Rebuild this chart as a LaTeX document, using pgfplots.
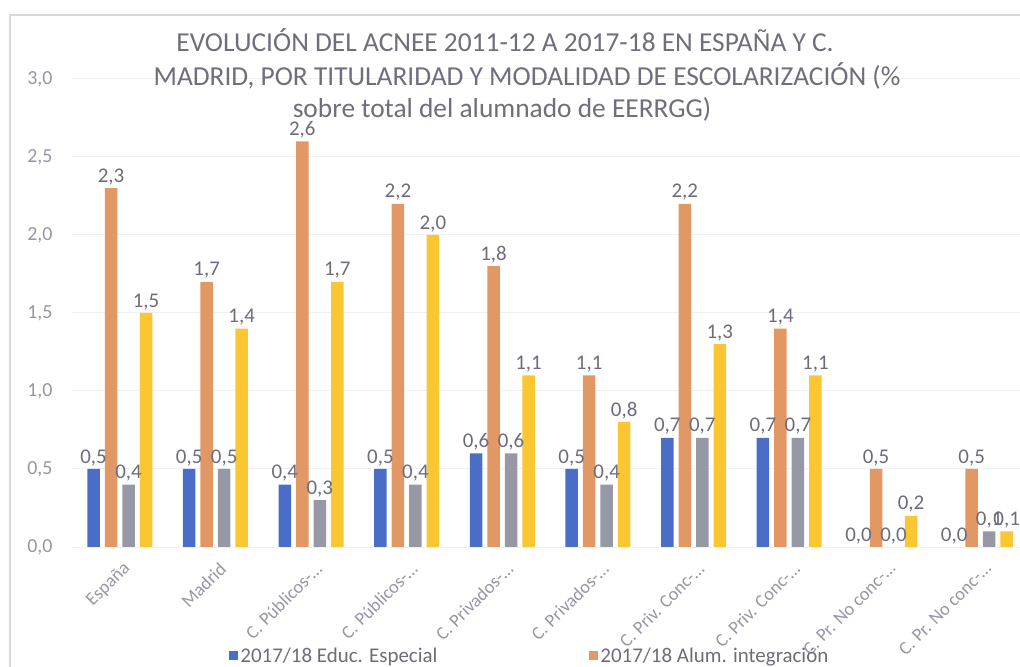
\documentclass[border=0pt]{standalone}
\usepackage{pgfplots}
\pgfplotsset{compat=1.18}
\usepackage{fontspec}
\setmainfont{Carlito}
\definecolor{cblue}{RGB}{74,110,200}
\definecolor{corange}{RGB}{226,152,100}
\definecolor{cgray}{RGB}{150,152,166}
\definecolor{cyellow}{RGB}{250,198,50}
\definecolor{lblgray}{RGB}{108,108,124}
\definecolor{tickgray}{RGB}{150,150,165}
\definecolor{titlegray}{RGB}{110,110,124}
\begin{document}
\begin{tikzpicture}
\path[use as bounding box] (0bp,0bp) rectangle (1020bp,667bp);
\draw[black!15, line width=1.5bp] (10bp,0bp) -- (10bp,652bp) -- (1020bp,652bp);
\begin{axis}[
  at={(72bp,120bp)}, anchor=south west,
  scale only axis, width=948bp, height=468bp,
  xmin=-0.5, xmax=9.414, ymin=0, ymax=3,
  ybar, bar width=12.5bp,
  axis line style={draw=none}, tick style={draw=none},
  ymajorgrids, grid style={color=black!6, line width=1bp},
  ytick={0,0.5,...,3},
  /pgf/number format/assume math mode=true,
  yticklabel={\pgfmathprintnumber[fixed,fixed zerofill,precision=1,use comma]{\tick}},
  yticklabel style={font=\fontsize{20}{21}\selectfont, text=tickgray, xshift=-16bp},
  xtick={0,...,9},
  xticklabels={España, Madrid, C. Públicos-…, C. Públicos-…, C. Privados-…, C. Privados-…, C. Priv. Conc-…, C. Priv. Conc-…, C. Pr. No conc-…, C. Pr. No conc-…},
  xticklabel style={xshift=10bp, yshift=-12bp, rotate=45, anchor=east, font=\fontsize{18.5}{20}\selectfont, text=tickgray},
  nodes near coords={\pgfmathprintnumber[fixed,fixed zerofill,precision=1,use comma]{\pgfplotspointmeta}},
  every node near coord/.append style={font=\fontsize{21}{22}\selectfont, text=lblgray, anchor=south, inner sep=3bp},
  legend style={at={(0.483,-0.232)}, anchor=center, draw=none, fill=none, legend columns=2,
    font=\fontsize{21}{22}\selectfont, text=lblgray,
    /tikz/every even column/.append style={column sep=150bp}},
  legend image code/.code={\fill[#1] (0bp,-4bp) rectangle (9bp,5bp);},
]
\addplot[fill=cblue, draw=none, bar shift=-26.25bp] coordinates {(0,0.5) (1,0.5) (2,0.4) (3,0.5) (4,0.6) (5,0.5) (6,0.7) (7,0.7) (8,0.0) (9,0.0)};
\addlegendentry{2017/18 Educ. Especial}
\addplot[fill=corange, draw=none, bar shift=-8.75bp] coordinates {(0,2.3) (1,1.7) (2,2.6) (3,2.2) (4,1.8) (5,1.1) (6,2.2) (7,1.4) (8,0.5) (9,0.5)};
\addlegendentry{2017/18 Alum. integración}
\addplot[fill=cgray, draw=none, bar shift=8.75bp] coordinates {(0,0.4) (1,0.5) (2,0.3) (3,0.4) (4,0.6) (5,0.4) (6,0.7) (7,0.7) (8,0.0) (9,0.1)};
\addplot[fill=cyellow, draw=none, bar shift=26.25bp] coordinates {(0,1.5) (1,1.4) (2,1.7) (3,2.0) (4,1.1) (5,0.8) (6,1.3) (7,1.1) (8,0.2) (9,0.1)};
\end{axis}
\begin{scope}[every node/.style={font=\fontsize{27.5}{33.5}\selectfont, text=titlegray, anchor=base, inner sep=0pt}]
\node at (505bp,615bp) {EVOLUCIÓN DEL ACNEE 2011-12 A 2017-18 EN ESPAÑA Y C.};
\node at (527bp,581bp) {MADRID, POR TITULARIDAD Y MODALIDAD DE ESCOLARIZACIÓN (\%};
\node at (502bp,549bp) {sobre total del alumnado de EERRGG)};
\end{scope}
\end{tikzpicture}
\end{document}
